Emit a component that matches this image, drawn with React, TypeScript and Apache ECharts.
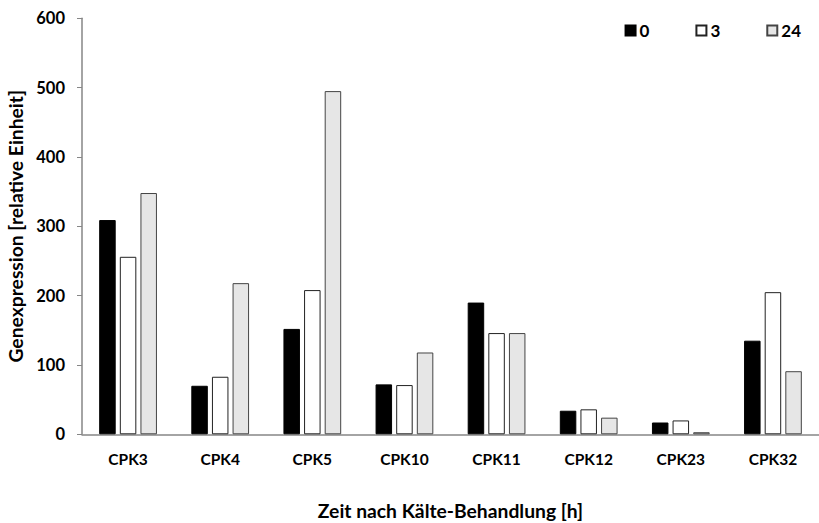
import React, { useEffect, useRef } from "react";
import * as echarts from "echarts";

const categories = ["CPK3", "CPK4", "CPK5", "CPK10", "CPK11", "CPK12", "CPK23", "CPK32"];
const seriesNames = ["0", "3", "24"];
const values0 = [309, 70, 152, 72, 190, 34, 17, 135];
const values3 = [256, 83, 208, 71, 146, 36, 20, 205];
const values24 = [348, 218, 495, 118, 146, 24, 3, 91];
const yTicks = [0, 100, 200, 300, 400, 500, 600];

const FONT = "Lato, 'Open Sans', sans-serif";

export default function App() {
  const ref = useRef<HTMLDivElement>(null);
  useEffect(() => {
    if (!ref.current) return;
    const chart = echarts.init(ref.current, undefined, { renderer: "svg" });
    const styles = [
      { color: "#000000", borderColor: "#000000", borderWidth: 1 },
      { color: "#ffffff", borderColor: "#222222", borderWidth: 1 },
      { color: "#e6e6e6", borderColor: "#444444", borderWidth: 1 },
    ];
    const data = [values0, values3, values24];
    chart.setOption({
      animation: false,
      backgroundColor: "#ffffff",
      textStyle: { fontFamily: FONT },
      grid: {
        left: 82,
        right: 0,
        top: 18.3,
        bottom: 88.7,
        containLabel: false,
        outerBoundsMode: "none",
      },
      legend: {
        right: 13,
        top: 17,
        itemWidth: 10,
        itemHeight: 10,
        itemGap: 46,
        icon: "rect",
        textStyle: { fontFamily: FONT, fontWeight: "bold", fontSize: 17, color: "#000", padding: [0, 0, 0, -1] },
        data: seriesNames,
      },
      xAxis: {
        type: "category",
        data: categories,
        name: "Zeit nach Kälte-Behandlung [h]",
        nameLocation: "middle",
        nameGap: 67,
        nameTextStyle: { fontFamily: FONT, fontWeight: "bold", fontSize: 19.3, color: "#000" },
        axisLine: { lineStyle: { color: "#868686", width: 1.5 } },
        axisTick: { show: false },
        axisLabel: { margin: 17, fontFamily: FONT, fontWeight: "bold", fontSize: 15.5, color: "#000" },
      },
      yAxis: {
        type: "value",
        min: yTicks[0],
        max: yTicks[yTicks.length - 1],
        interval: 100,
        name: "Genexpression [relative Einheit]",
        nameLocation: "middle",
        nameGap: 53,
        nameTextStyle: { fontFamily: FONT, fontWeight: "bold", fontSize: 19.3, color: "#000" },
        axisLine: { show: true, lineStyle: { color: "#868686", width: 1.5 } },
        axisTick: { show: true, inside: false, length: 5, lineStyle: { color: "#868686" } },
        axisLabel: { margin: 17, fontFamily: FONT, fontWeight: "bold", fontSize: 16.5, color: "#000" },
        splitLine: { show: false },
      },
      series: seriesNames.map((name, i) => ({
        name,
        type: "bar",
        data: data[i],
        barWidth: 16.5,
        barGap: "25%",
        itemStyle: styles[i],
      })),
    });
    return () => chart.dispose();
  }, []);
  return (
    <div
      ref={ref}
      style={{ position: "fixed", left: 0, top: 0, width: 819, height: 523 }}
    />
  );
}
